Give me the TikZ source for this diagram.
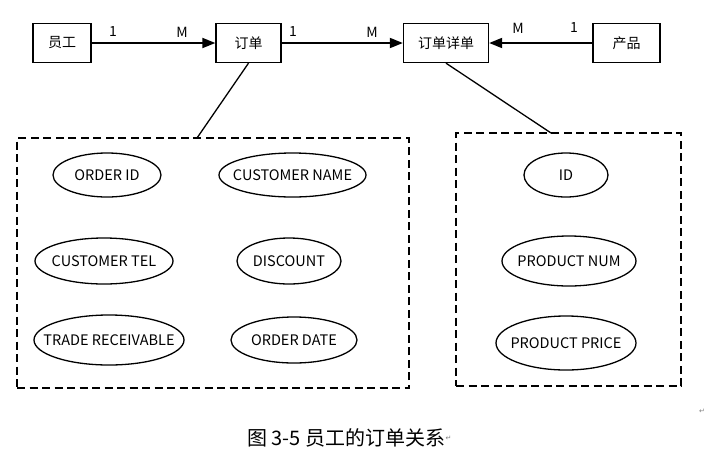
\documentclass[tikz,border=0pt]{standalone}
\usepackage{fontspec}
\setmainfont{Noto Sans CJK SC}
\newfontfamily\symfont{DejaVu Sans}
\usetikzlibrary{shapes.geometric,arrows.meta}
\newcommand{\ctext}[1]{\makebox[0pt]{#1}}
\begin{document}
\begin{tikzpicture}[x=1pt,y=-1pt,
  entity/.style={draw,line width=1.3pt,minimum width=#1,minimum height=39pt,inner sep=0pt,font=\fontsize{14pt}{16pt}\selectfont},
  attr/.style={draw,ellipse,line width=1.3pt,inner sep=0pt,font=\fontsize{14.5pt}{16pt}\selectfont},
  group/.style={draw,dashed,dash pattern=on 8pt off 4.5pt,line width=1.6pt,inner sep=0pt},
  rel/.style={line width=1.8pt,-{Triangle[length=13pt,width=10pt]}},
  card/.style={font=\fontsize{14pt}{16pt}\selectfont},
  link/.style={line width=1.3pt},
  pmark/.style={font=\symfont\fontsize{7pt}{8pt}\selectfont,text=gray}
]
\useasboundingbox[fill=white] (0,0) rectangle (710,464);

% entities
\node[entity=58pt] (yg) at (62,43) {员工};
\node[entity=65pt] (dd) at (248.5,43) {订单};
\node[entity=85pt] (xd) at (446,43) {订单详单};
\node[entity=67pt] (cp) at (626.5,43) {产品};

% relations
\draw[rel] (yg) -- (dd);
\draw[rel] (dd) -- (xd);
\draw[rel] (cp) -- (xd);
\node[card] (c1) at (113,32) {1};
\node[card] (c2) at (182,32) {M};
\node[card] (c3) at (293,32) {1};
\node[card] (c4) at (372,32) {M};
\node[card] (c5) at (518,28) {M};
\node[card] (c6) at (574,28) {1};

% groups
\node[group,minimum width=392pt,minimum height=250pt] (lg) at (213,263) {};
\node[group,minimum width=225pt,minimum height=253pt] (rg) at (568.5,259.5) {};
\coordinate (lt) at (197,138);
\coordinate (rt) at (551,133);
\draw[link] (dd.south) -- (lt);
\draw[link] (xd.south) -- (rt);

% attributes of 订单
\node[attr,minimum width=108pt,minimum height=44pt] (a1) at (107,175) {\ctext{ORDER ID}};
\node[attr,minimum width=147pt,minimum height=44pt] (a2) at (292.5,175) {\ctext{CUSTOMER NAME}};
\node[attr,minimum width=138pt,minimum height=46pt] (a3) at (104,261) {\ctext{CUSTOMER TEL}};
\node[attr,minimum width=104pt,minimum height=46pt] (a4) at (289,261) {\ctext{DISCOUNT}};
\node[attr,minimum width=150pt,minimum height=50pt] (a5) at (109,340) {\ctext{TRADE RECEIVABLE}};
\node[attr,minimum width=126pt,minimum height=46pt] (a6) at (294,340) {\ctext{ORDER DATE}};

% attributes of 订单详单
\node[attr,minimum width=84pt,minimum height=44pt] (b1) at (566,175) {\ctext{ID}};
\node[attr,minimum width=134pt,minimum height=50pt] (b2) at (569,261) {\ctext{PRODUCT NUM}};
\node[attr,minimum width=140pt,minimum height=54pt] (b3) at (566,343) {\ctext{PRODUCT PRICE}};

% caption
\node[font=\fontsize{20pt}{22pt}\selectfont,anchor=west,inner sep=0pt] (cap) at (247,438) {图 3-5 员工的订单关系};
\node[pmark,anchor=west,inner sep=0pt] (m1) at (cap.east) {↵};
\node[pmark,inner sep=0pt] (m2) at (702,411) {↵};
\end{tikzpicture}
\end{document}
